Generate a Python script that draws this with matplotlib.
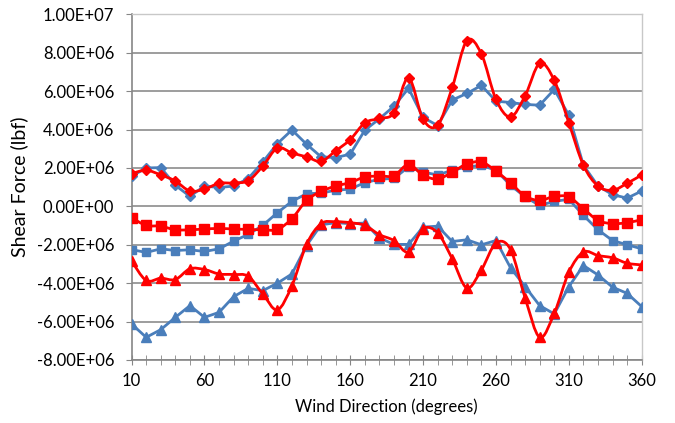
import numpy as np
import matplotlib
matplotlib.use('Agg')
import matplotlib.pyplot as plt
from matplotlib.path import Path
from matplotlib.patches import PathPatch

plt.rcParams['font.family'] = ['Lato', 'DejaVu Sans']

direction = list(range(10, 361, 10))

# values in lbf
blue_max = [1.57e6, 2.0e6, 2.02e6, 1.1e6, 0.52e6, 1.06e6, 0.98e6, 1.06e6, 1.45e6, 2.31e6,
            3.27e6, 3.98e6, 3.24e6, 2.58e6, 2.54e6, 2.72e6, 3.97e6, 4.56e6, 5.22e6, 6.15e6,
            4.63e6, 4.21e6, 5.54e6, 5.88e6, 6.3e6, 5.48e6, 5.41e6, 5.31e6, 5.27e6, 6.09e6,
            4.75e6, 2.14e6, 1.06e6, 0.61e6, 0.43e6, 0.8e6]
red_max = [1.71e6, 1.88e6, 1.64e6, 1.32e6, 0.8e6, 0.9e6, 1.2e6, 1.22e6, 1.34e6, 2.1e6,
           3.04e6, 2.78e6, 2.58e6, 2.35e6, 2.89e6, 3.48e6, 4.35e6, 4.58e6, 4.87e6, 6.7e6,
           4.53e6, 4.23e6, 6.2e6, 8.63e6, 7.94e6, 5.57e6, 4.66e6, 5.76e6, 7.45e6, 6.56e6,
           4.35e6, 2.14e6, 1.06e6, 0.84e6, 1.2e6, 1.64e6]
blue_mean = [-2.25e6, -2.4e6, -2.21e6, -2.3e6, -2.26e6, -2.35e6, -2.21e6, -1.81e6, -1.46e6, -0.99e6,
             -0.33e6, 0.26e6, 0.66e6, 0.69e6, 0.84e6, 0.9e6, 1.24e6, 1.41e6, 1.46e6, 2.05e6,
             1.78e6, 1.64e6, 1.88e6, 2.05e6, 2.14e6, 1.88e6, 1.1e6, 0.49e6, 0.05e6, 0.26e6,
             0.37e6, -0.47e6, -1.22e6, -1.78e6, -2.0e6, -2.21e6]
red_mean = [-0.59e6, -0.99e6, -1.03e6, -1.22e6, -1.22e6, -1.18e6, -1.15e6, -1.18e6, -1.2e6, -1.22e6,
            -1.2e6, -0.64e6, 0.31e6, 0.78e6, 1.06e6, 1.24e6, 1.53e6, 1.58e6, 1.6e6, 2.18e6,
            1.62e6, 1.43e6, 1.78e6, 2.21e6, 2.31e6, 1.84e6, 1.22e6, 0.54e6, 0.31e6, 0.52e6,
            0.49e6, -0.12e6, -0.73e6, -0.9e6, -0.85e6, -0.69e6]
blue_min = [-6.13e6, -6.82e6, -6.42e6, -5.78e6, -5.17e6, -5.78e6, -5.52e6, -4.7e6, -4.27e6, -4.39e6,
            -4.0e6, -3.52e6, -2.04e6, -0.96e6, -0.85e6, -0.9e6, -0.87e6, -1.64e6, -1.98e6, -1.98e6,
            -1.08e6, -1.03e6, -1.83e6, -1.74e6, -2.0e6, -1.78e6, -3.2e6, -4.18e6, -5.17e6, -5.6e6,
            -4.18e6, -3.08e6, -3.57e6, -4.21e6, -4.53e6, -5.22e6]
red_min = [-2.85e6, -3.86e6, -3.74e6, -3.81e6, -3.25e6, -3.29e6, -3.52e6, -3.55e6, -3.64e6, -4.56e6,
           -5.39e6, -4.13e6, -1.98e6, -0.9e6, -0.8e6, -0.85e6, -0.99e6, -1.47e6, -1.78e6, -2.38e6,
           -1.17e6, -1.38e6, -2.73e6, -4.25e6, -3.31e6, -1.91e6, -2.25e6, -4.77e6, -6.82e6, -5.57e6,
           -3.43e6, -2.38e6, -2.56e6, -2.68e6, -2.96e6, -3.05e6]

BLUE = '#4a7ebb'
RED = '#ff0000'


def smooth_line(ax, x, y, color, lw):
    # Excel-style smoothed line: cubic bezier through every point
    x = np.asarray(x, float)
    y = np.asarray(y, float)
    n = len(x)
    verts = [(x[0], y[0])]
    codes = [Path.MOVETO]
    for i in range(n - 1):
        i0 = max(i - 1, 0)
        i3 = min(i + 2, n - 1)
        c1 = (x[i] + (x[i + 1] - x[i0]) / 6, y[i] + (y[i + 1] - y[i0]) / 6)
        c2 = (x[i + 1] - (x[i3] - x[i]) / 6, y[i + 1] - (y[i3] - y[i]) / 6)
        verts += [c1, c2, (x[i + 1], y[i + 1])]
        codes += [Path.CURVE4] * 3
    ax.add_patch(PathPatch(Path(verts, codes), fill=False, edgecolor=color, lw=lw, zorder=3))


fig = plt.figure(figsize=(6.75, 4.23), dpi=100)
ax = fig.add_axes([0.195, 0.149, 0.7557, 0.817])

series = [(blue_max, BLUE, 'D', 5.5, False), (red_max, RED, 'D', 5.5, True),
          (blue_mean, BLUE, 's', 6, False), (red_mean, RED, 's', 6.5, True),
          (blue_min, BLUE, '^', 7, False), (red_min, RED, '^', 7, True)]
for vals, col, mk, ms, smooth in series:
    if smooth:
        smooth_line(ax, direction, vals, col, 2)
        ax.plot(direction, vals, ls='none', marker=mk, ms=ms, color=col, zorder=4)
    else:
        ax.plot(direction, vals, color=col, lw=2, marker=mk, ms=ms, zorder=3)

ax.set_xlim(10, 360)
ax.set_ylim(-8e6, 1e7)
ax.set_xticks(range(10, 361, 50))
ax.set_xticks(range(10, 361, 10), minor=True)
ax.set_yticks(np.arange(-8e6, 1.01e7, 2e6))
ax.yaxis.set_major_formatter(lambda v, p: '%.2E' % v)
ax.grid(axis='y', color='#8c8c8c', lw=1.2)
ax.set_axisbelow(True)

for s in ['top', 'right']:
    ax.spines[s].set_color('#c8c8c8')
    ax.spines[s].set_linewidth(1)
for s in ['left', 'bottom']:
    ax.spines[s].set_color('#868686')
    ax.spines[s].set_linewidth(1.2)
ax.tick_params(axis='y', direction='out', length=4.5, color='#868686', labelsize=12, pad=8)
ax.tick_params(axis='x', which='both', direction='inout', length=7, color='#868686', labelsize=12, pad=6)

ax.set_ylabel('Shear Force (lbf)', fontsize=14, labelpad=6)
ax.set_xlabel('Wind Direction (degrees)', fontsize=12, labelpad=7)

fig.savefig('out.png', dpi=100)
